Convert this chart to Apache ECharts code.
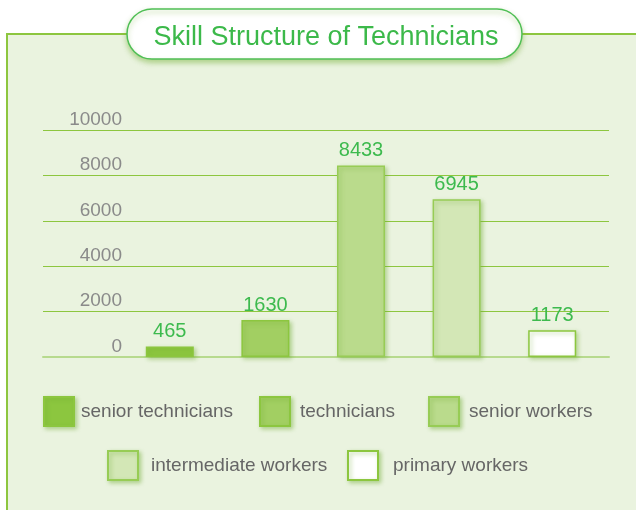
<!DOCTYPE html>
<html>
<head>
<meta charset="utf-8">
<script src="https://cdn.jsdelivr.net/npm/echarts@6/dist/echarts.min.js"></script>
<style>html,body{margin:0;padding:0;background:#fff;}#c{width:636px;height:510px;}</style>
</head>
<body>
<div id="c"></div>
<script>
const titleText = 'Skill Structure of Technicians';
const categories = ['senior technicians', 'technicians', 'senior workers', 'intermediate workers', 'primary workers'];
const values = [465, 1630, 8433, 6945, 1173];
const yTicks = [0, 2000, 4000, 6000, 8000, 10000];

const fills = ['#8cc63f', '#a2cf62', '#badb8c', '#d3e7b6', '#ffffff'];
const borders = ['#8cc63f', '#8cc63f', '#97cc55', '#97cc55', '#8cc63f'];

const chart = echarts.init(document.getElementById('c'));
const font = 'Liberation Sans, Arial, sans-serif';

const series = categories.map((name, i) => ({
  name: name,
  type: 'bar',
  xAxisIndex: 1,
  yAxisIndex: 1,
  stack: 'all',
  barWidth: 48,
  data: categories.map((c, j) => j === i ? values[i] : '-'),
  itemStyle: {
    color: fills[i],
    borderColor: borders[i],
    borderWidth: 1.5,
    shadowColor: 'rgba(110,170,50,0.45)',
    shadowBlur: 4,
    shadowOffsetX: 2,
    shadowOffsetY: 2
  },
  label: {
    show: true,
    position: 'top',
    distance: 5,
    color: '#3dba4e',
    fontSize: 20,
    fontFamily: font
  }
}));

const legendPos = [
  {left: 43, top: 396, gap: 2},
  {left: 259, top: 396, gap: 5},
  {left: 428, top: 396, gap: 5},
  {left: 107, top: 450, gap: 8},
  {left: 347, top: 450, gap: 10}
];

const legends = categories.map((name, i) => ({
  data: [{name: name, icon: 'rect'}],
  left: legendPos[i].left,
  top: legendPos[i].top,
  itemWidth: 30,
  itemHeight: 29,
  selectedMode: false,
  padding: 0,
  itemStyle: {
    shadowColor: 'rgba(110,170,50,0.45)',
    shadowBlur: 4,
    shadowOffsetX: 2,
    shadowOffsetY: 2
  },
  textStyle: {color: '#666666', fontSize: 19, fontFamily: font, padding: [0, 0, 0, legendPos[i].gap]}
}));

chart.setOption({
  animation: false,
  backgroundColor: '#ffffff',
  graphic: [
    {type: 'rect', z: -10, shape: {x: 7, y: 34, width: 640, height: 490},
     style: {fill: '#eaf3df', stroke: '#8dc63f', lineWidth: 2}},
    {type: 'rect', z: 10, shape: {x: 127, y: 9, width: 395, height: 50, r: 25},
     style: {fill: '#ffffff', stroke: '#4fbf55', lineWidth: 1.5,
             shadowColor: 'rgba(120,180,60,0.5)', shadowBlur: 5, shadowOffsetY: 3}}
  ],
  title: {
    text: titleText,
    left: 321, top: 19,
    textAlign: 'center',
    z: 20,
    textStyle: {color: '#3cb94a', fontSize: 27, fontWeight: 'normal', fontFamily: font}
  },
  legend: legends,
  grid: [
    {left: 43, right: 27, top: 130, bottom: 153},
    {left: 122, right: 36, top: 130, bottom: 153}
  ],
  xAxis: [
    {type: 'category', gridIndex: 0, data: categories, axisTick: {show: false}, axisLabel: {show: false},
     axisLine: {show: true, lineStyle: {color: '#b7da8e', width: 2}}},
    {type: 'category', gridIndex: 1, data: categories, axisTick: {show: false}, axisLabel: {show: false},
     axisLine: {show: false}}
  ],
  yAxis: [
    {type: 'value', gridIndex: 0, min: 0, max: 10000, interval: 2000,
     axisLabel: {show: false}, axisLine: {show: false}, axisTick: {show: false},
     splitLine: {show: true, lineStyle: {color: '#8dc63f', width: 1.2}}},
    {type: 'value', gridIndex: 1, min: 0, max: 10000, interval: 2000,
     axisLine: {show: false}, axisTick: {show: false}, splitLine: {show: false},
     axisLabel: {color: '#8a8a8a', fontSize: 19, fontFamily: font, margin: 0,
                 verticalAlign: 'bottom', padding: [0, 0, 1, 0],
                 formatter: v => yTicks.indexOf(v) >= 0 ? String(v) : ''}}
  ],
  series: series
});
</script>
</body>
</html>
